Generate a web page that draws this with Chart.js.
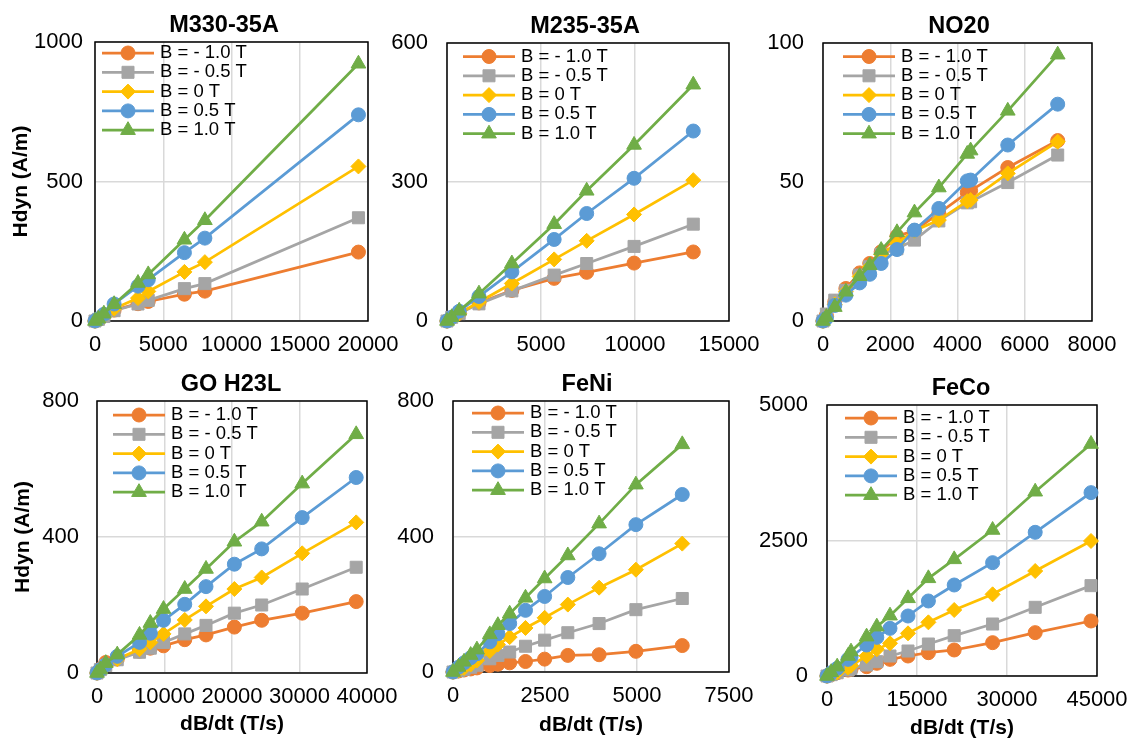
<!DOCTYPE html>
<html>
<head>
<meta charset="utf-8">
<script src="https://cdn.jsdelivr.net/npm/chart.js@4/dist/chart.umd.min.js"></script>
<style>
html,body{margin:0;padding:0;background:#fff;}
body{width:1132px;height:740px;position:relative;overflow:hidden;}
canvas{position:absolute;}
</style>
</head>
<body>
<script>
// ---------- DATA ----------
const seriesLabels = ['B = - 1.0 T', 'B = - 0.5 T', 'B = 0 T', 'B = 0.5 T', 'B = 1.0 T'];
const xAxisTitle = 'dB/dt (T/s)';
const yAxisTitle = 'Hdyn (A/m)';

// M330-35A
const m330Rate  = [0, 250, 650, 1400, 3150, 3900, 6550, 8050, 19300];
const m330Neg10 = [0, 7, 18, 39, 62, 70, 96, 107, 247];
const m330Neg05 = [0, 6, 16, 37, 61, 74, 116, 134, 370];
const m330Zero  = [0, 6, 18, 44, 82, 106, 176, 211, 554];
const m330Pos05 = [0, 8, 24, 61, 125, 148, 245, 297, 739];
const m330Pos10 = [0, 8, 26, 60, 136, 167, 291, 361, 922];
const m330XTicks = [0, 5000, 10000, 15000, 20000];
const m330YTicks = [0, 500, 1000];

// M235-35A
const m235Rate  = [0, 250, 650, 1700, 3450, 5700, 7430, 9950, 13100];
const m235Neg10 = [0, 7, 17, 39, 66, 92, 105, 125, 149];
const m235Neg05 = [0, 8, 16, 37, 65, 99, 124, 161, 209];
const m235Zero  = [0, 6, 16, 41, 81, 133, 173, 230, 304];
const m235Pos05 = [0, 8, 21, 53, 106, 176, 232, 308, 410];
const m235Pos10 = [0, 8, 22, 59, 124, 209, 281, 380, 510];
const m235XTicks = [0, 5000, 10000, 15000];
const m235YTicks = [0, 300, 600];

// NO20
const no20Rate  = [0, 100, 350, 680, 1090, 1390, 1730, 2200, 2720, 3445, 4290, 4390, 5495, 6980];
const no20Neg10 = [0, 2, 6.9, 11.7, 17.3, 20.7, 24.9, 30.5, 32.5, 38.7, 46.2, 46.9, 55.2, 64.9];
const no20Neg05 = [0, 2.5, 7.5, 11, 16.5, 19.5, 24, 26, 29.1, 36, 42.5, 42.9, 49.8, 59.7];
const no20Zero  = [0, 1.5, 6, 10.5, 16, 19.5, 24, 28, 32.5, 36.3, 43.1, 43.5, 53.1, 64.5];
const no20Pos05 = [0, 1, 5.6, 9.3, 13.7, 16.8, 20.7, 25.7, 32.7, 40.5, 50.4, 50.7, 63.3, 78];
const no20Pos10 = [0, 1.4, 5, 10.5, 16.1, 20, 25.5, 31.9, 39, 48, 60.1, 61.3, 75.6, 95.8];
const no20XTicks = [0, 2000, 4000, 6000, 8000];
const no20YTicks = [0, 50, 100];

// GO H23L
const goRate  = [0, 500, 1300, 3000, 6300, 7900, 9850, 13000, 16150, 20350, 24400, 30400, 38400];
const goNeg10 = [0, 12, 31, 41, 64, 73, 80, 98, 112, 135, 155, 176, 210];
const goNeg05 = [0, 10, 22, 39, 61, 73, 90, 115, 140, 176, 200, 247, 311];
const goZero  = [0, 8, 20, 41, 70, 90, 115, 156, 196, 247, 281, 352, 443];
const goPos05 = [0, 10, 24, 49, 90, 117, 155, 202, 254, 320, 365, 457, 575];
const goPos10 = [0, 10, 29, 54, 112, 147, 188, 247, 306, 386, 445, 557, 702];
const goXTicks = [0, 10000, 20000, 30000, 40000];
const goYTicks = [0, 400, 800];

// FeNi
const feniRate  = [0, 150, 300, 480, 650, 1000, 1220, 1540, 1970, 2490, 3120, 3970, 4970, 6230];
const feniNeg10 = [0, 3, 6, 9, 12, 19, 23, 27, 31, 38, 49, 51, 61, 78];
const feniNeg05 = [0, 4, 8, 14, 20, 39, 49, 59, 76, 94, 116, 143, 184, 217];
const feniZero  = [0, 5, 12, 22, 34, 62, 81, 103, 130, 160, 199, 249, 302, 379];
const feniPos05 = [0, 14, 27, 42, 54, 89, 113, 143, 182, 223, 279, 349, 435, 524];
const feniPos10 = [0, 15, 30, 50, 66, 111, 138, 172, 219, 276, 344, 438, 553, 672];
const feniXTicks = [0, 2500, 5000, 7500];
const feniYTicks = [0, 400, 800];

// FeCo
const fecoRate  = [0, 700, 1700, 3500, 4000, 6600, 8300, 10500, 13500, 16900, 21200, 27600, 34700, 44000];
const fecoNeg10 = [0, 25, 60, 110, 125, 172, 234, 307, 369, 430, 480, 615, 800, 1015];
const fecoNeg05 = [0, 25, 60, 110, 140, 203, 264, 369, 461, 590, 744, 959, 1267, 1667];
const fecoZero  = [0, 30, 70, 154, 190, 369, 492, 603, 787, 990, 1218, 1507, 1937, 2491];
const fecoPos05 = [0, 60, 141, 307, 350, 572, 713, 879, 1107, 1384, 1679, 2091, 2651, 3383];
const fecoPos10 = [0, 70, 172, 369, 449, 726, 910, 1113, 1433, 1802, 2152, 2694, 3400, 4280];
const fecoXTicks = [0, 15000, 30000, 45000];
const fecoYTicks = [0, 2500, 5000];

const panels = [
  {title: 'M330-35A', x: m330Rate, ys: [m330Neg10, m330Neg05, m330Zero, m330Pos05, m330Pos10], xTicks: m330XTicks, yTicks: m330YTicks},
  {title: 'M235-35A', x: m235Rate, ys: [m235Neg10, m235Neg05, m235Zero, m235Pos05, m235Pos10], xTicks: m235XTicks, yTicks: m235YTicks},
  {title: 'NO20',     x: no20Rate, ys: [no20Neg10, no20Neg05, no20Zero, no20Pos05, no20Pos10], xTicks: no20XTicks, yTicks: no20YTicks},
  {title: 'GO H23L',  x: goRate,   ys: [goNeg10, goNeg05, goZero, goPos05, goPos10],           xTicks: goXTicks,   yTicks: goYTicks},
  {title: 'FeNi',     x: feniRate, ys: [feniNeg10, feniNeg05, feniZero, feniPos05, feniPos10], xTicks: feniXTicks, yTicks: feniYTicks},
  {title: 'FeCo',     x: fecoRate, ys: [fecoNeg10, fecoNeg05, fecoZero, fecoPos05, fecoPos10], xTicks: fecoXTicks, yTicks: fecoYTicks}
];

// ---------- STYLE / LAYOUT ----------
const FONT = '"Liberation Sans", Arial, sans-serif';
const seriesColors  = ['#ED7D31', '#A5A5A5', '#FFC000', '#5B9BD5', '#70AD47'];
const seriesMarkers = ['circle', 'rect', 'rectRot', 'circle', 'triangle'];
const seriesRadius  = [7, 8.5, 7.5, 7, 8.5];

const layouts = [
  {L: 95,  T: 42,  R: 368,  B: 321, yw: 90, xh: 40, yPad: 12, yTitle: true,  xTitle: false, tx: 224, lx: 7,  ly: 11},
  {L: 447, T: 43,  R: 729,  B: 321, yw: 70, xh: 40, yPad: 19, yTitle: false, xTitle: false, tx: 585, lx: 16, ly: 13.5},
  {L: 823, T: 43,  R: 1092, B: 321, yw: 70, xh: 40, yPad: 19, yTitle: false, xTitle: false, tx: 959, lx: 20, ly: 13.5},
  {L: 97,  T: 401, R: 367,  B: 673, yw: 90, xh: 68, yPad: 18, yTitle: true,  xTitle: true,  tx: 231, lx: 16, ly: 14},
  {L: 453, T: 401, R: 729,  B: 672, yw: 70, xh: 70, yPad: 19, yTitle: false, xTitle: true,  tx: 587, lx: 19, ly: 12},
  {L: 827, T: 405, R: 1097, B: 676, yw: 70, xh: 69, yPad: 19, yTitle: false, xTitle: true,  tx: 961, lx: 18, ly: 13}
];
const PT = 40, PR = 45;

const decor = {
  id: 'decor',
  beforeDatasetsDraw(chart, args, o) {
    const a = chart.chartArea, ctx = chart.ctx;
    ctx.save();
    ctx.strokeStyle = '#000';
    ctx.lineWidth = 1.5;
    ctx.strokeRect(a.left, a.top, a.right - a.left, a.bottom - a.top);
    ctx.restore();
  },
  afterDraw(chart, args, o) {
    const a = chart.chartArea, ctx = chart.ctx;
    ctx.save();
    ctx.fillStyle = '#000';
    ctx.font = 'bold 23.5px ' + FONT;
    ctx.textAlign = 'center';
    ctx.textBaseline = 'alphabetic';
    ctx.fillText(o.text, o.titleX, a.top - 10);
    ctx.font = '18.5px ' + FONT;
    ctx.textAlign = 'left';
    ctx.textBaseline = 'middle';
    chart.data.datasets.forEach((ds, i) => {
      const y = a.top + o.ly + i * 19.3;
      const x1 = a.left + o.lx, x2 = x1 + 52;
      ctx.strokeStyle = ds.borderColor;
      ctx.lineWidth = ds.borderWidth;
      ctx.beginPath(); ctx.moveTo(x1, y); ctx.lineTo(x2, y); ctx.stroke();
      ctx.fillStyle = ds.pointBackgroundColor;
      ctx.strokeStyle = ds.pointBorderColor;
      ctx.lineWidth = 1;
      Chart.helpers.drawPoint(ctx, {pointStyle: ds.pointStyle, radius: ds.pointRadius, rotation: 0, borderWidth: 1}, (x1 + x2) / 2, y);
      ctx.fillStyle = '#000';
      ctx.fillText(ds.label, x2 + 6, y);
    });
    ctx.restore();
  }
};

Chart.defaults.font.family = FONT;
Chart.defaults.color = '#000';

panels.forEach((p, idx) => {
  const g = layouts[idx];
  const x0 = g.L - g.yw, y0 = g.T - PT;
  const W = g.yw + (g.R - g.L) + PR;
  const H = PT + (g.B - g.T) + g.xh;
  const cv = document.createElement('canvas');
  cv.width = W; cv.height = H;
  cv.style.left = x0 + 'px'; cv.style.top = y0 + 'px';
  cv.style.width = W + 'px'; cv.style.height = H + 'px';
  document.body.appendChild(cv);

  const datasets = p.ys.map((ys, s) => ({
    label: seriesLabels[s],
    data: p.x.map((xv, k) => ({x: xv, y: ys[k]})),
    showLine: true,
    borderColor: seriesColors[s],
    backgroundColor: seriesColors[s],
    pointBackgroundColor: seriesColors[s],
    pointBorderColor: seriesColors[s],
    pointBorderWidth: 1,
    borderWidth: 2.75,
    pointStyle: seriesMarkers[s],
    pointRadius: seriesRadius[s],
    pointHoverRadius: seriesRadius[s],
    tension: 0,
    clip: false,
    order: 4 - s
  }));

  const tickSetter = arr => axis => { axis.ticks = arr.map(v => ({value: v})); };

  new Chart(cv, {
    type: 'scatter',
    data: {datasets},
    options: {
      responsive: false,
      animation: false,
      devicePixelRatio: 1,
      events: [],
      layout: {padding: {top: PT, right: PR, left: 0, bottom: 0}},
      plugins: {
        legend: {display: false},
        tooltip: {enabled: false},
        title: {display: false},
        decor: {text: p.title, titleX: g.tx - x0, lx: g.lx, ly: g.ly}
      },
      scales: {
        x: {
          type: 'linear', position: 'bottom',
          min: p.xTicks[0], max: p.xTicks[p.xTicks.length - 1],
          afterBuildTicks: tickSetter(p.xTicks),
          afterFit: s => { s.height = g.xh; },
          ticks: {padding: 11, maxRotation: 0, minRotation: 0, autoSkip: false, font: {size: 22}, color: '#000', callback: v => String(v)},
          grid: {color: '#D9D9D9', lineWidth: 1.5, drawTicks: false},
          border: {display: false},
          title: {display: g.xTitle, text: xAxisTitle, font: {size: 21, weight: 'bold'}, color: '#000', padding: {top: 0, bottom: 4}}
        },
        y: {
          type: 'linear', position: 'left',
          min: p.yTicks[0], max: p.yTicks[p.yTicks.length - 1],
          afterBuildTicks: tickSetter(p.yTicks),
          afterFit: s => { s.width = g.yw; },
          ticks: {padding: g.yPad, autoSkip: false, font: {size: 22}, color: '#000', callback: v => String(v)},
          grid: {color: '#D9D9D9', lineWidth: 1.5, drawTicks: false},
          border: {display: false},
          title: {display: g.yTitle, text: yAxisTitle, font: {size: 21, weight: 'bold'}, color: '#000', padding: {top: 4, bottom: 0}}
        }
      }
    },
    plugins: [decor]
  });
});
</script>
</body>
</html>
